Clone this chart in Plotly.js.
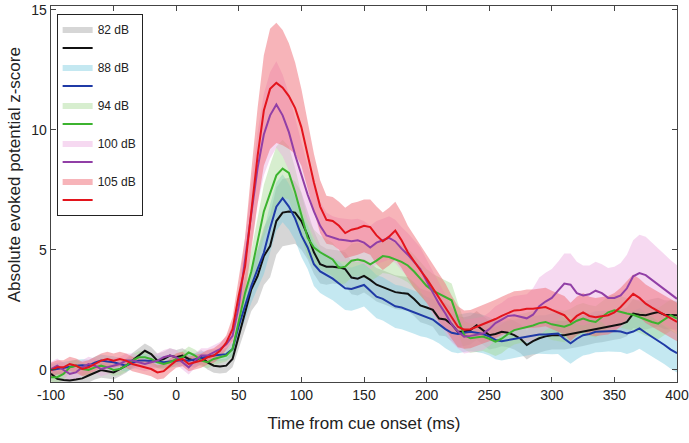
<!DOCTYPE html>
<html>
<head>
<meta charset="utf-8">
<script src="https://cdn.plot.ly/plotly-3.0.1.min.js"></script>
<style>html,body{margin:0;padding:0;background:#fff;}#chart{width:689px;height:443px;}</style>
</head>
<body>
<div id="chart"></div>
<script>
// time axis (ms), every 5 ms from -100 to 400
const timeMs = [-100,-95,-90,-85,-80,-75,-70,-65,-60,-55,-50,-45,-40,-35,-30,-25,-20,-15,-10,-5,
0,5,10,15,20,25,30,35,40,45,50,55,60,65,70,75,80,85,90,95,
100,105,110,115,120,125,130,135,140,145,150,155,160,165,170,175,180,185,190,195,
200,205,210,215,220,225,230,235,240,245,250,255,260,265,270,275,280,285,290,295,
300,305,310,315,320,325,330,335,340,345,350,355,360,365,370,375,380,385,390,395,400];

const seriesNames = ["82 dB","88 dB","94 dB","100 dB","105 dB"];

const mean82 = [-0.16,-0.37,-0.42,-0.44,-0.4,-0.35,-0.23,-0.1,0.0,-0.05,
-0.1,0.04,0.18,0.39,0.6,0.8,0.66,0.39,0.46,0.6,
0.53,0.6,0.46,0.39,0.53,0.32,0.18,0.15,0.18,0.46,
1.42,2.39,3.36,3.91,4.74,5.16,6.2,6.55,6.6,6.55,
6.2,5.6,4.9,4.4,4.3,4.3,4.27,4.2,3.85,3.8,
3.92,3.75,3.55,3.45,3.35,3.24,3.2,3.17,2.95,2.69,
2.6,2.5,2.14,2.1,1.9,1.59,1.6,1.66,1.86,1.65,
1.45,1.5,1.59,1.55,1.45,1.3,1.04,1.2,1.32,1.4,
1.45,1.45,1.45,1.5,1.55,1.6,1.65,1.72,1.75,1.8,
1.86,1.9,2.0,2.35,2.3,2.28,2.35,2.41,2.3,2.3,2.28];

const mean88 = [0.0,0.05,0.11,0.15,0.18,0.2,0.18,0.3,0.39,0.35,
0.32,0.25,0.18,0.3,0.39,0.4,0.39,0.35,0.32,0.36,
0.39,0.42,0.39,0.45,0.53,0.56,0.6,0.62,0.66,0.87,
1.84,2.67,3.5,4.2,4.88,5.9,6.8,7.15,6.8,6.3,
5.6,5.1,4.4,4.1,3.95,3.8,3.6,3.4,3.37,3.45,
3.54,3.3,3.05,2.96,2.8,2.65,2.6,2.5,2.41,2.3,
2.2,2.1,1.9,1.7,1.55,1.5,1.55,1.59,1.55,1.5,
1.4,1.25,1.2,1.25,1.3,1.35,1.4,1.45,1.48,1.48,
1.5,1.52,1.3,1.11,1.3,1.45,1.5,1.59,1.6,1.62,
1.62,1.6,1.52,1.6,1.73,1.55,1.39,1.2,1.04,0.85,0.7];

const mean94 = [-0.3,-0.3,-0.16,0.11,0.18,0.04,0.0,0.11,0.18,0.11,
0.0,0.04,0.18,0.39,0.53,0.53,0.46,0.32,0.25,0.32,
0.46,0.53,0.73,0.6,0.39,0.32,0.46,0.53,0.6,0.87,
2.1,3.2,4.1,5.4,6.6,7.35,8.1,8.38,8.2,7.4,
6.4,5.5,5.1,4.9,4.75,4.6,4.25,4.3,4.55,4.6,
4.54,4.4,4.55,4.74,4.7,4.6,4.5,4.35,4.1,3.8,
3.5,3.3,3.17,3.05,2.9,2.14,1.45,1.32,1.35,1.39,
1.3,1.18,1.3,1.5,1.66,1.72,1.8,1.85,1.95,2.0,
1.9,1.85,1.8,1.9,2.05,2.14,2.05,2.0,2.2,2.4,
2.48,2.4,2.35,2.3,2.2,2.07,2.0,1.93,2.1,2.28,2.14];

const mean100 = [0.04,0.18,0.0,-0.16,-0.1,0.11,0.25,0.18,0.04,0.11,
0.18,0.25,0.39,0.39,0.32,0.25,0.32,0.39,0.53,0.6,
0.53,0.32,0.11,0.39,0.6,0.6,0.73,0.87,1.07,1.42,
2.67,4.5,6.5,8.4,9.8,10.6,11.05,10.6,9.9,8.95,
8.1,7.3,6.6,6.0,5.6,5.5,5.43,5.4,5.36,5.4,
5.3,5.1,5.3,5.4,5.5,5.35,5.05,4.8,4.5,4.2,
3.7,3.2,2.75,2.35,1.9,1.6,1.39,1.42,1.48,1.52,
1.7,1.95,2.1,2.25,2.28,2.2,2.15,2.3,2.65,2.85,
3.0,3.3,3.6,3.55,3.2,3.1,3.15,3.3,3.2,3.0,
3.0,3.1,3.4,3.9,4.03,3.95,3.75,3.55,3.37,3.17,2.96];

const mean105 = [0.0,0.11,0.11,0.25,0.18,0.04,0.11,0.25,0.39,0.46,
0.39,0.46,0.39,0.25,0.18,0.11,0.04,-0.1,-0.05,0.18,
0.39,0.46,0.25,0.32,0.39,0.53,0.6,0.8,1.14,1.7,
3.1,4.3,6.7,8.9,10.8,11.7,11.95,11.75,11.4,10.9,
10.1,8.9,7.8,6.8,6.25,6.2,6.0,5.7,5.84,5.9,
6.0,5.95,5.6,5.36,5.55,5.8,5.4,4.9,4.5,4.15,
3.8,3.4,3.0,2.65,2.2,1.8,1.68,1.7,1.8,1.9,
2.0,2.12,2.25,2.38,2.48,2.5,2.55,2.55,2.58,2.62,
2.5,2.4,2.28,2.0,2.25,2.4,2.25,2.2,2.25,2.28,
2.4,2.62,2.9,3.17,3.0,2.76,2.6,2.45,2.3,2.15,2.0];

// half-widths of the shaded error bands
const sem82 = [0.3,0.3,0.32,0.3,0.28,0.3,0.3,0.3,0.32,0.3,
0.3,0.3,0.3,0.32,0.3,0.3,0.3,0.3,0.3,0.3,
0.3,0.3,0.3,0.3,0.3,0.3,0.3,0.3,0.3,0.35,
0.5,0.7,0.9,1.1,1.2,1.3,1.4,1.4,1.4,1.3,
1.2,1.0,0.9,0.8,0.75,0.7,0.7,0.7,0.7,0.7,
0.7,0.7,0.7,0.7,0.7,0.7,0.7,0.7,0.7,0.7,
0.7,0.7,0.7,0.7,0.7,0.65,0.6,0.6,0.6,0.6,
0.6,0.6,0.6,0.6,0.6,0.6,0.6,0.6,0.6,0.6,
0.6,0.6,0.6,0.6,0.6,0.6,0.6,0.6,0.6,0.6,
0.6,0.6,0.6,0.6,0.6,0.6,0.6,0.6,0.6,0.6,0.6];

const sem88 = [0.25,0.25,0.25,0.25,0.25,0.25,0.25,0.25,0.25,0.25,
0.25,0.25,0.25,0.25,0.25,0.25,0.25,0.25,0.25,0.25,
0.25,0.25,0.25,0.25,0.25,0.25,0.25,0.25,0.25,0.3,
0.45,0.6,0.7,0.8,0.9,1.0,1.0,1.0,0.95,0.9,
0.9,0.9,0.9,0.9,0.9,0.9,0.9,0.9,0.9,0.9,
0.9,0.9,0.9,0.9,0.9,0.9,0.9,0.9,0.9,0.9,
0.85,0.85,0.8,0.8,0.8,0.8,0.8,0.8,0.8,0.8,
0.8,0.8,0.8,0.8,0.8,0.8,0.8,0.8,0.8,0.8,
0.85,0.85,0.85,0.85,0.85,0.85,0.85,0.85,0.85,0.85,
0.85,0.85,0.85,0.85,0.85,0.85,0.85,0.8,0.8,0.8,0.8];

const sem94 = [0.25,0.25,0.25,0.25,0.25,0.25,0.25,0.25,0.25,0.25,
0.25,0.25,0.25,0.25,0.25,0.25,0.25,0.25,0.25,0.25,
0.25,0.25,0.25,0.25,0.25,0.25,0.25,0.25,0.25,0.3,
0.5,0.7,0.85,1.0,1.1,1.2,1.2,1.2,1.1,1.0,
0.9,0.8,0.75,0.7,0.7,0.7,0.7,0.7,0.7,0.7,
0.7,0.7,0.7,0.7,0.7,0.7,0.7,0.7,0.7,0.7,
0.7,0.7,0.7,0.7,0.7,0.65,0.6,0.6,0.6,0.6,
0.6,0.6,0.6,0.6,0.6,0.6,0.6,0.6,0.6,0.6,
0.65,0.65,0.65,0.65,0.65,0.65,0.65,0.65,0.65,0.65,
0.65,0.65,0.65,0.65,0.65,0.65,0.65,0.65,0.65,0.65,0.65];

const sem100 = [0.3,0.3,0.3,0.3,0.3,0.3,0.3,0.3,0.3,0.3,
0.3,0.3,0.3,0.3,0.3,0.3,0.3,0.3,0.3,0.3,
0.3,0.3,0.3,0.3,0.3,0.3,0.3,0.3,0.3,0.4,
0.7,1.0,1.3,1.5,1.7,1.8,1.8,1.7,1.6,1.5,
1.4,1.2,1.1,1.0,0.95,0.9,0.9,0.9,0.9,0.9,
0.9,0.9,0.9,0.9,0.9,0.9,0.9,0.9,0.9,0.9,
0.9,0.9,0.85,0.8,0.75,0.7,0.7,0.7,0.7,0.7,
0.7,0.7,0.7,0.75,0.8,0.9,1.0,1.1,1.2,1.2,
1.2,1.2,1.25,1.3,1.3,1.25,1.2,1.2,1.2,1.25,
1.3,1.35,1.4,1.5,1.6,1.6,1.55,1.5,1.45,1.4,1.4];

const sem105 = [0.3,0.3,0.3,0.3,0.3,0.3,0.3,0.3,0.3,0.3,
0.3,0.3,0.3,0.3,0.3,0.3,0.3,0.3,0.3,0.3,
0.3,0.3,0.3,0.3,0.3,0.3,0.3,0.3,0.3,0.5,
0.8,1.2,1.6,2.0,2.3,2.5,2.5,2.4,2.2,1.9,
1.6,1.4,1.2,1.1,1.0,1.0,1.0,1.05,1.1,1.1,
1.1,1.15,1.2,1.2,1.2,1.2,1.15,1.1,1.1,1.05,
1.0,1.0,1.0,0.95,0.9,0.85,0.8,0.8,0.8,0.8,
0.8,0.8,0.8,0.8,0.8,0.8,0.8,0.8,0.8,0.8,
0.8,0.8,0.8,0.8,0.8,0.8,0.8,0.8,0.8,0.8,
0.8,0.8,0.8,0.8,0.8,0.8,0.8,0.8,0.8,0.8,0.8];

const xTickVals = [-100,-50,0,50,100,150,200,250,300,350,400];
const xTickText = ["-100","-50","0","50","100","150","200","250","300","350","400"];
const yTickVals = [0,5,10,15];
const yTickText = ["0","5","10","15"];

const means = [mean82, mean88, mean94, mean100, mean105];
const sems = [sem82, sem88, sem94, sem100, sem105];
const lineColors = ["#111111","#1f3aa6","#3cb32f","#913fa6","#e3141c"];
const bandColors = ["rgba(165,165,165,0.45)","rgba(125,205,225,0.45)","rgba(160,215,140,0.42)","rgba(235,170,225,0.45)","rgba(240,105,115,0.5)"];

const traces = [];
// bands first
for (let k = 0; k < means.length; k++) {
  const up = means[k].map((v, i) => v + sems[k][i]);
  const lo = means[k].map((v, i) => v - sems[k][i]);
  traces.push({
    type: "scatter", mode: "lines",
    x: timeMs.concat(timeMs.slice().reverse()),
    y: up.concat(lo.slice().reverse()),
    fill: "toself", fillcolor: bandColors[k],
    line: {width: 0, color: bandColors[k]},
    name: seriesNames[k], legendrank: 2 * k + 1,
    hoverinfo: "skip", showlegend: true
  });
}
// mean lines on top
for (let k = 0; k < means.length; k++) {
  traces.push({
    type: "scatter", mode: "lines",
    x: timeMs, y: means[k],
    line: {color: lineColors[k], width: 2},
    name: "", legendrank: 2 * k + 2, showlegend: true
  });
}

const layout = {
  width: 689, height: 443,
  margin: {l: 51, r: 12, t: 6, b: 61},
  paper_bgcolor: "#fff", plot_bgcolor: "#fff",
  font: {family: "Liberation Sans, Arial, sans-serif", size: 14, color: "#222"},
  showlegend: true,
  legend: {
    x: 0.009, y: 0.98, xanchor: "left", yanchor: "top",
    bgcolor: "#fff", bordercolor: "#222", borderwidth: 1,
    font: {size: 12, color: "#222"}, traceorder: "normal", itemwidth: 30
  },
  xaxis: {
    range: [-100, 400], tickvals: xTickVals, ticktext: xTickText, ticks: "inside", ticklen: 5,
    showline: true, mirror: "ticks", linecolor: "#444", linewidth: 1.3, tickcolor: "#444",
    showgrid: false, zeroline: false,
    tickfont: {size: 14},
    title: {text: "Time from cue onset (ms)", font: {size: 17}, standoff: 15}
  },
  yaxis: {
    range: [-0.5, 15.15], tickvals: yTickVals, ticktext: yTickText, ticks: "inside", ticklen: 5,
    showline: true, mirror: "ticks", linecolor: "#444", linewidth: 1.3, tickcolor: "#444",
    showgrid: false, zeroline: false,
    tickfont: {size: 14}
  },
  annotations: [{
    text: "Absolute evoked potential z-score", textangle: -90,
    xref: "paper", yref: "paper", x: -0.059, y: 0.55,
    xanchor: "center", yanchor: "middle", showarrow: false,
    font: {size: 17, color: "#222"}
  }]
};

Plotly.newPlot("chart", traces, layout, {staticPlot: true, displayModeBar: false});
</script>
</body>
</html>
